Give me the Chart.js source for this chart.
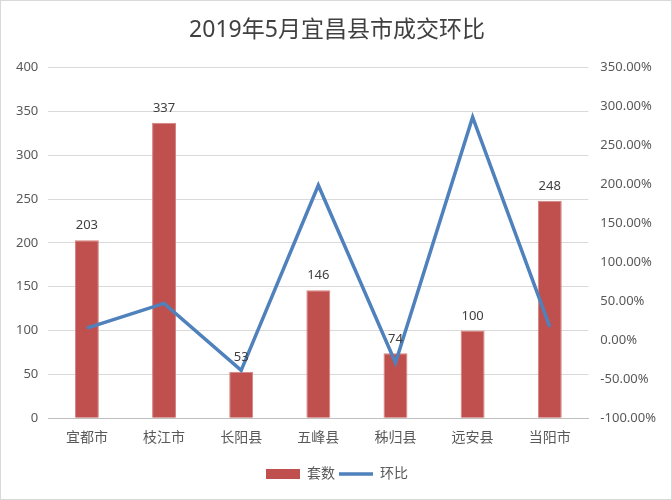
<!DOCTYPE html>
<html>
<head>
<meta charset="utf-8">
<script src="https://cdn.jsdelivr.net/npm/chart.js@4"></script>
<style>
    html, body { margin: 0; padding: 0; background: #ffffff; }
    .frame { width: 672px; height: 500px; box-sizing: border-box; border: 1px solid #d9d9d9; }
</style>
</head>
<body>
<div class="frame"><canvas id="deal-chart" width="670" height="498"></canvas></div>
<script>
const categories = ['宜都市', '枝江市', '长阳县', '五峰县', '秭归县', '远安县', '当阳市'];
const dealCounts = [203, 337, 53, 146, 74, 100, 248];
const monthOnMonth = [15.6, 47.3, -38.6, 199, -28.8, 286.4, 17.3];

const fontFamily = '"Noto Sans", "Noto Sans CJK SC", sans-serif';
const barColor = '#c0504d';
const lineColor = '#4f81bd';

const barValueLabels = {
    id: 'barValueLabels',
    afterDatasetsDraw(chart) {
        const meta = chart.getDatasetMeta(0);
        const ctx = chart.ctx;
        ctx.save();
        ctx.font = `13px ${fontFamily}`;
        ctx.fillStyle = '#404040';
        ctx.textAlign = 'center';
        ctx.textBaseline = 'bottom';
        meta.data.forEach((bar, i) => {
            ctx.fillText(dealCounts[i], bar.x, bar.y - 8);
        });
        ctx.restore();
    }
};

new Chart(document.getElementById('deal-chart'), {
    data: {
        labels: categories,
        datasets: [
            {
                type: 'bar',
                label: '套数',
                data: dealCounts,
                backgroundColor: barColor,
                borderColor: '#d4827f',
                borderWidth: 1,
                barPercentage: 0.31,
                categoryPercentage: 1,
                yAxisID: 'y',
                order: 2
            },
            {
                type: 'line',
                label: '环比',
                data: monthOnMonth,
                borderColor: lineColor,
                backgroundColor: lineColor,
                borderWidth: 3.5,
                pointRadius: 0,
                tension: 0,
                yAxisID: 'y1',
                order: 1
            }
        ]
    },
    plugins: [barValueLabels],
    options: {
        responsive: false,
        animation: false,
        layout: { padding: { left: 5, right: 3, top: 10, bottom: 8 } },
        plugins: {
            title: {
                display: true,
                text: '2019年5月宜昌县市成交环比',
                color: '#404040',
                font: { family: fontFamily, size: 23, weight: 'normal' },
                padding: { top: 6, bottom: 23 }
            },
            legend: {
                position: 'bottom',
                labels: {
                    color: '#595959',
                    font: { family: fontFamily, size: 14 },
                    usePointStyle: true,
                    pointStyleWidth: 34,
                    boxHeight: 10,
                    padding: 4,
                    generateLabels: chart => [
                        { text: '套数', fillStyle: barColor, strokeStyle: barColor, lineWidth: 0, pointStyle: 'rect', fontColor: '#595959', datasetIndex: 0 },
                        { text: '环比', fillStyle: lineColor, strokeStyle: lineColor, lineWidth: 3.5, pointStyle: 'line', fontColor: '#595959', datasetIndex: 1 }
                    ]
                }
            },
            tooltip: { enabled: false }
        },
        scales: {
            x: {
                ticks: { color: '#595959', font: { family: fontFamily, size: 14 }, padding: 11 },
                grid: { display: false, drawTicks: false },
                border: { color: '#bfbfbf' },
                afterFit: scale => { scale.height += 6; }
            },
            y: {
                position: 'left',
                min: 0,
                max: 400,
                ticks: { stepSize: 50, color: '#595959', font: { family: fontFamily, size: 13 }, padding: 10 },
                grid: { color: '#d9d9d9', drawTicks: false },
                border: { display: false }
            },
            y1: {
                position: 'right',
                min: -100,
                max: 350,
                ticks: {
                    stepSize: 50,
                    color: '#595959',
                    font: { family: fontFamily, size: 13 },
                    padding: 12,
                    callback: value => `${value.toFixed(2)}%`
                },
                grid: { display: false, drawTicks: false },
                border: { display: false }
            }
        }
    }
});
</script>
</body>
</html>
